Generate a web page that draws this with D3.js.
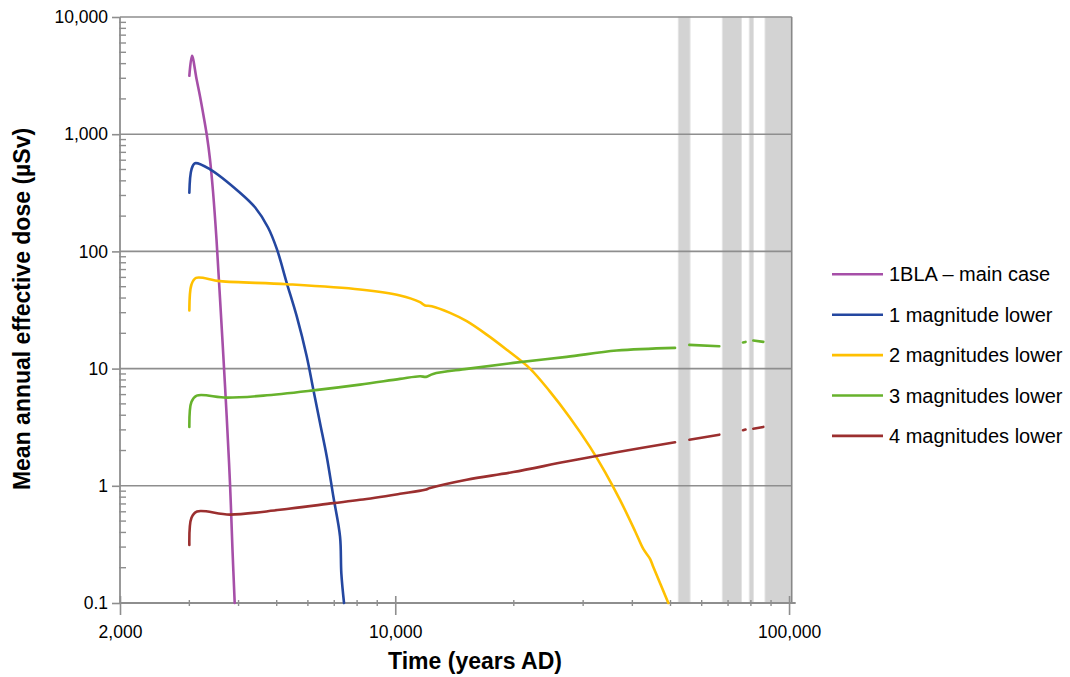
<!DOCTYPE html>
<html><head><meta charset="utf-8">
<script src="https://cdn.jsdelivr.net/npm/d3@7"></script>
<style>
body{margin:0;background:#fff}
svg{display:block}
text{font-family:"Liberation Sans",Arial,Helvetica,sans-serif;fill:#000}
</style>
</head><body>
<svg id="chart" width="1070" height="677"></svg>
<script>
// ---------- data ----------
const seriesNames = ["1BLA – main case", "1 magnitude lower", "2 magnitudes lower", "3 magnitudes lower", "4 magnitudes lower"];
const seriesColors = ["#a64fa8", "#2447a0", "#ffc000", "#67b22c", "#9b2f2f"];

const yearsMain = [3000, 3047, 3129, 3193, 3268, 3326, 3385, 3445, 3516, 3578, 3646, 3732, 3805, 3861, 3911];
const doseMain  = [3150, 4670, 2953, 2112, 1370, 961, 611, 326, 127, 47.3, 16.0, 3.9, 1.05, 0.284, 0.1];

const years1 = [3000, 3038, 3101, 3385, 4035, 4404, 4753, 5008, 5301, 5620, 5960, 6195, 6441, 6699, 6963, 7241, 7296, 7412];
const dose1  = [317, 502, 565, 502, 317, 238, 160, 104, 54, 28, 12.7, 6.61, 3.44, 1.78, 0.81, 0.369, 0.179, 0.1];

const years2 = [3000, 3038, 3120, 3589, 5301, 8139, 10281, 11559, 11902, 12378, 13776, 15188, 17071, 19187, 21986, 24712, 27775, 31218, 34078, 37213, 40626, 42643, 44357, 45221, 49367];
const dose2  = [31.3, 52.2, 59.4, 55.8, 52.5, 47.3, 42.1, 36.9, 34.6, 34.1, 29.9, 25.4, 19.5, 14.5, 10.0, 6.36, 3.81, 2.15, 1.317, 0.759, 0.412, 0.289, 0.238, 0.203, 0.1];

const years3 = [3000, 3038, 3132, 3732, 4623, 6195, 8139, 10281, 11559, 11972, 12472, 15188, 19941, 27245, 36502, 51339, 53500, 55823, 66516, 71000, 76400, 77524, 79500, 81141, 86027];
const dose3  = [3.18, 5.22, 5.88, 5.65, 5.88, 6.52, 7.30, 8.17, 8.60, 8.50, 9.01, 9.94, 11.19, 12.6, 14.25, 15.03, null, 15.94, 15.51, null, 16.7, 16.9, null, 17.35, 16.91];

const years4 = [3000, 3038, 3138, 3805, 5096, 6963, 8139, 10281, 11902, 12252, 15188, 19941, 27245, 36502, 51339, 53500, 55823, 66516, 71000, 76400, 77524, 79500, 81141, 86027];
const dose4  = [0.313, 0.533, 0.603, 0.568, 0.624, 0.711, 0.759, 0.854, 0.924, 0.956, 1.125, 1.31, 1.61, 1.93, 2.35, null, 2.47, 2.73, null, 2.98, 3.02, null, 3.07, 3.18];

const bandStarts = [52340, 67690, 79250, 86890];
const bandEnds   = [56053, 75720, 81210, 101560];

const xMajorTicks = [2000, 10000, 100000];
const xMinorTicks = [3000, 4000, 5000, 6000, 7000, 8000, 9000, 20000, 30000, 40000, 50000, 60000, 70000, 80000, 90000];
const yMajorTicks = [0.1, 1, 10, 100, 1000, 10000];
const yMinorTicks = [].concat(...[0.1, 1, 10, 100, 1000].map(d => [2,3,4,5,6,7,8,9].map(m => +(m * d).toPrecision(3))));

const xTitle = "Time (years AD)";
const yTitle = "Mean annual effective dose (µSv)";

// ---------- layout ----------
const L = 120, R = 791.7, T = 17, B = 603;
const svg = d3.select("#chart");
const x = d3.scaleLog().domain([2000, 101560]).range([L, R]);
const y = d3.scaleLog().domain([0.1, 10000]).range([B, T]);
const gridColor = "#8e8e8e";

// bands
svg.append("g").selectAll("rect").data(bandStarts.map((s, i) => [s, bandEnds[i]])).join("rect")
  .attr("x", d => x(d[0])).attr("width", d => x(d[1]) - x(d[0]))
  .attr("y", T).attr("height", B - T)
  .attr("fill", "#d3d3d3").attr("stroke", "#e3e3e3").attr("stroke-width", 1);

// horizontal gridlines
svg.append("g").selectAll("line").data(yMajorTicks.filter(d => d > 0.1)).join("line")
  .attr("x1", L).attr("x2", R).attr("y1", d => y(d)).attr("y2", d => y(d))
  .attr("stroke", gridColor).attr("stroke-width", 1.6);

// right border
svg.append("line").attr("x1", R).attr("x2", R).attr("y1", T).attr("y2", B)
  .attr("stroke", "#888").attr("stroke-width", 1.6);

// y axis
const yAxis = svg.append("g").attr("transform", `translate(${L},0)`)
  .call(d3.axisLeft(y).tickValues(yMajorTicks).tickFormat(d3.format(",")).tickSize(8).tickPadding(4));
yAxis.select(".domain").remove();
yAxis.selectAll(".tick line").attr("stroke", gridColor).attr("stroke-width", 1.6);
yAxis.selectAll(".tick text").attr("font-size", 17.5).attr("font-family", "Liberation Sans, Arial, sans-serif");
svg.append("g").selectAll("line").data(yMinorTicks).join("line")
  .attr("x1", L - 1).attr("x2", L + 6).attr("y1", d => y(d)).attr("y2", d => y(d))
  .attr("stroke", gridColor).attr("stroke-width", 1.4);
svg.append("line").attr("x1", L).attr("x2", L).attr("y1", T).attr("y2", B)
  .attr("stroke", gridColor).attr("stroke-width", 1.8);

// x axis
const xAxis = svg.append("g").attr("transform", `translate(0,${B})`)
  .call(d3.axisBottom(x).tickValues(xMajorTicks).tickFormat(d3.format(",")).tickSize(12).tickPadding(11));
xAxis.select(".domain").remove();
xAxis.selectAll(".tick line").attr("y1", -7).attr("stroke", gridColor).attr("stroke-width", 1.6);
xAxis.selectAll(".tick text").attr("font-size", 17.5).attr("font-family", "Liberation Sans, Arial, sans-serif");
svg.append("g").selectAll("line").data(xMinorTicks).join("line")
  .attr("x1", d => x(d)).attr("x2", d => x(d)).attr("y1", B - 3).attr("y2", B + 3)
  .attr("stroke", gridColor).attr("stroke-width", 1.4);
svg.append("line").attr("x1", L).attr("x2", R + 4).attr("y1", B).attr("y2", B)
  .attr("stroke", gridColor).attr("stroke-width", 1.8);

// series
const allYears = [yearsMain, years1, years2, years3, years4];
const allDose = [doseMain, dose1, dose2, dose3, dose4];
const line = d3.line().defined(d => d[1] != null).x(d => x(d[0])).y(d => y(d[1])).curve(d3.curveCatmullRom.alpha(0.5));
allYears.forEach((ys, i) => {
  const pts = ys.map((yr, j) => [yr, allDose[i][j]]);
  svg.append("path").datum(pts).attr("d", line)
    .attr("fill", "none").attr("stroke", seriesColors[i]).attr("stroke-width", 2.6)
    .attr("stroke-linejoin", "round").attr("stroke-linecap", "round");
});

// legend
const lg = svg.append("g").selectAll("g").data(seriesNames).join("g")
  .attr("transform", (d, i) => `translate(832,${274.3 + i * 40.4})`);
lg.append("line").attr("x1", 0).attr("x2", 51).attr("y1", 0).attr("y2", 0)
  .attr("stroke", (d, i) => seriesColors[i]).attr("stroke-width", 2.6);
lg.append("text").attr("x", 57).attr("y", 0).attr("dy", "0.35em").attr("font-size", 20).text(d => d);

// titles
svg.append("text").attr("x", 475).attr("y", 669).attr("text-anchor", "middle")
  .attr("font-size", 23).attr("font-weight", "bold").text(xTitle);
svg.append("text").attr("transform", "translate(30,309) rotate(-90)").attr("text-anchor", "middle")
  .attr("font-size", 23).attr("font-weight", "bold").text(yTitle);
</script>
</body></html>
